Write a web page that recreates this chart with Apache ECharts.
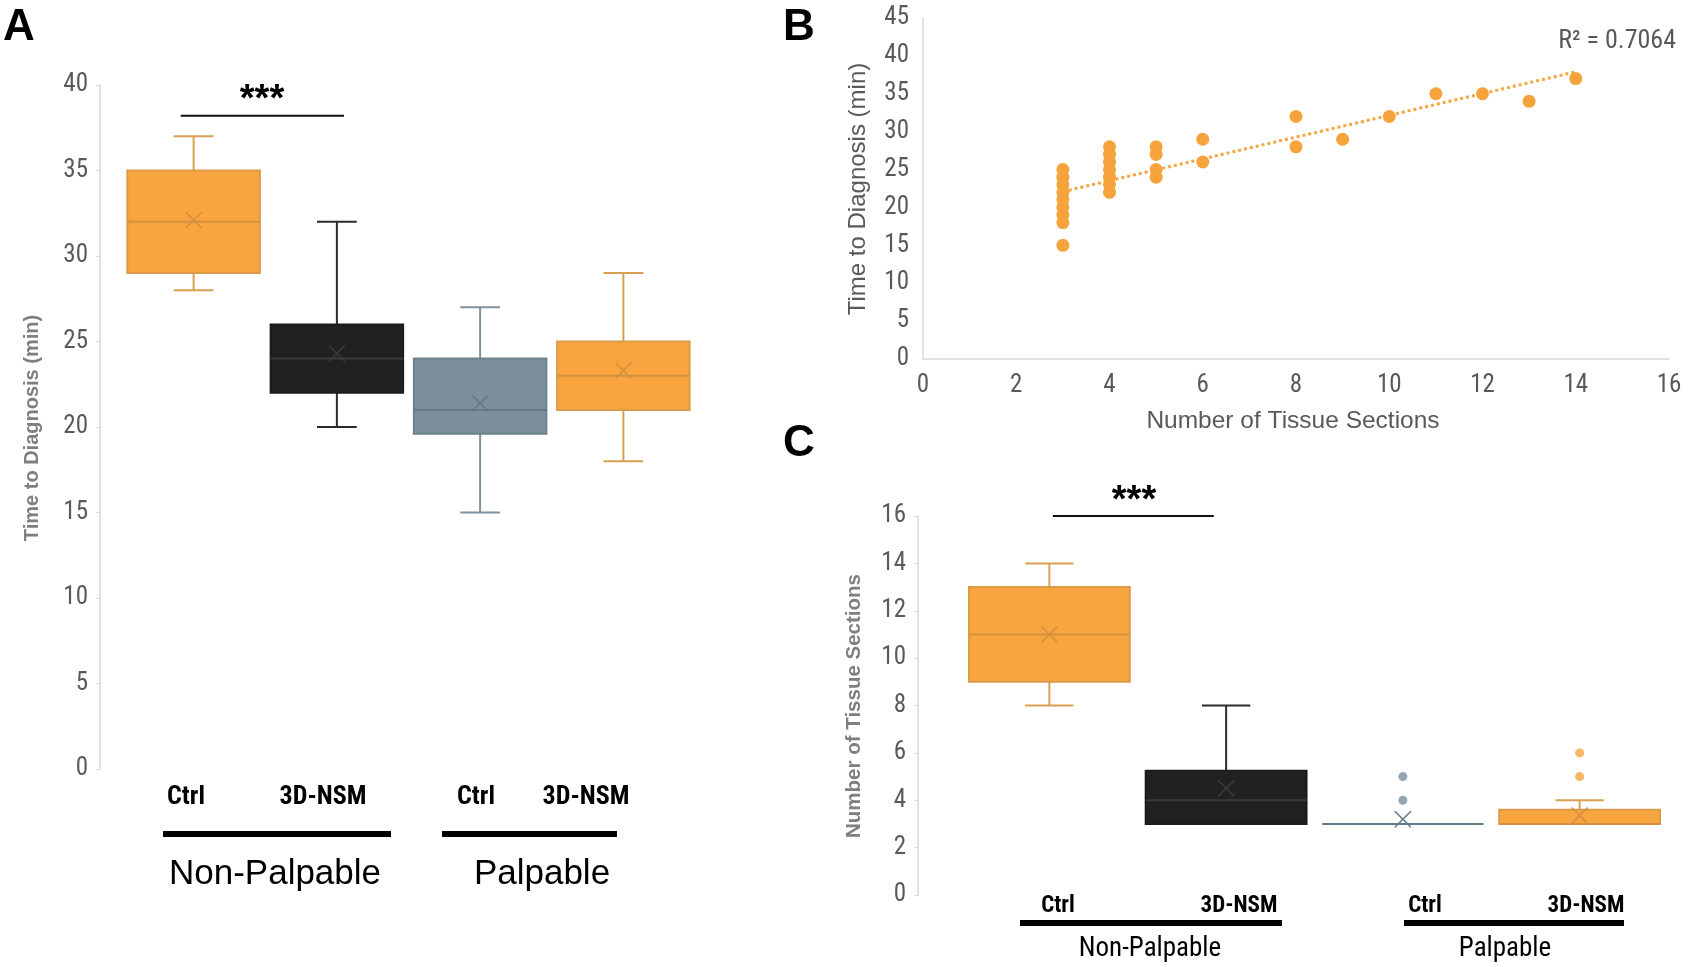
<!DOCTYPE html>
<html>
<head>
<meta charset="utf-8">
<script src="https://cdn.jsdelivr.net/npm/echarts@6/dist/echarts.min.js"></script>
<style>
html,body{margin:0;padding:0;background:#fff;}
#chart{width:1689px;height:967px;}
</style>
</head>
<body>
<div id="chart"></div>
<script>
// ---------------- DATA ----------------
// Panel A: Time to diagnosis (min)
const aCategories = ['Non-Palpable Ctrl', 'Non-Palpable 3D-NSM', 'Palpable Ctrl', 'Palpable 3D-NSM'];
const aBoxStats = [            // [min, Q1, median, Q3, max]
  [28, 29, 32, 35, 37],
  [20, 22, 24, 26, 32],
  [15, 19.6, 21, 24, 27],
  [18, 21, 23, 25, 29]
];
const aMeans = [32.1, 24.3, 21.4, 23.3];
const aSig = [-0.09, 1.05, 38.2];   // [from category, to category, value]

// Panel B: time vs number of sections
const bPoints = [
  [3,15],[3,18],[3,19],[3,20],[3,21],[3,22],[3,23],[3,24],[3,25],
  [4,22],[4,23],[4,24],[4,25],[4,26],[4,27],[4,28],
  [5,24],[5,25],[5,27],[5,28],
  [6,26],[6,29],
  [8,28],[8,32],
  [9,29],
  [10,32],
  [11,35],
  [12,35],
  [13,34],
  [14,37]
];
const bTrend = [[3, 22.1], [14, 37.9]];
const bR2 = 'R² = 0.7064';

// Panel C: number of tissue sections
const cCategories = ['Non-Palpable Ctrl', 'Non-Palpable 3D-NSM', 'Palpable Ctrl', 'Palpable 3D-NSM'];
const cBoxStats = [
  [8, 9, 11, 13, 14],
  [3, 3, 4, 5.25, 8],
  [3, 3, 3, 3, 3],
  [3, 3, 3, 3.6, 4]
];
const cMeans = [11, 4.5, 3.2, 3.35];
const cOutliers = [[2, 4], [2, 5], [3, 5], [3, 6]];
const cSig = [0.02, 0.93, 16];

const groupLabels = ['Ctrl', '3D-NSM', 'Ctrl', '3D-NSM'];
const groupNames = ['Non-Palpable', 'Palpable'];

// ---------------- STYLES ----------------
const ORANGE = {fill:'#F8A53F', border:'#DB9A47', line:'#D4913F', whisker:'#D9A052'};
const BLACK  = {fill:'#212121', border:'#1c1c1c', line:'#3a3a3a', whisker:'#2b2b2b'};
const GRAY   = {fill:'#7B8F9B', border:'#6C818D', line:'#63798A', whisker:'#7E929E'};
const boxStyles = [ORANGE, BLACK, GRAY, ORANGE];
const NARROW = "'Liberation Sans Narrow','Arial Narrow','Roboto Condensed','DejaVu Sans Condensed','Liberation Sans',sans-serif";
const SANS = "'Liberation Sans',Arial,'Helvetica',sans-serif";
const AX = '#d9d9d9';
const TXT = '#595959';

function boxRenderer(frac, capFrac) {
  return function (params, api) {
    const i = api.value(0);
    const st = boxStyles[i];
    const band = api.size([1, 0])[0];
    const bw = band * frac;
    const cap = bw * capFrac;
    const cx = api.coord([i, 0])[0];
    const yMin = api.coord([i, api.value(1)])[1];
    const yQ1 = api.coord([i, api.value(2)])[1];
    const yMed = api.coord([i, api.value(3)])[1];
    const yQ3 = api.coord([i, api.value(4)])[1];
    const yMax = api.coord([i, api.value(5)])[1];
    const yMean = api.coord([i, api.value(6)])[1];
    const xs = 8;
    const children = [];
    const wl = {stroke: st.whisker, lineWidth: 2};
    if (yMax < yQ3 - 0.5) {
      children.push({type:'line', shape:{x1:cx, y1:yQ3, x2:cx, y2:yMax}, style:wl});
      children.push({type:'line', shape:{x1:cx-cap/2, y1:yMax, x2:cx+cap/2, y2:yMax}, style:wl});
    }
    if (yMin > yQ1 + 0.5) {
      children.push({type:'line', shape:{x1:cx, y1:yQ1, x2:cx, y2:yMin}, style:wl});
      children.push({type:'line', shape:{x1:cx-cap/2, y1:yMin, x2:cx+cap/2, y2:yMin}, style:wl});
    }
    children.push({type:'rect', shape:{x:cx-bw/2, y:yQ3, width:bw, height:Math.max(yQ1-yQ3,0)},
      style:{fill:st.fill, stroke:st.border, lineWidth:2}});
    children.push({type:'line', shape:{x1:cx-bw/2, y1:yMed, x2:cx+bw/2, y2:yMed}, style:{stroke:st.line, lineWidth:2}});
    children.push({type:'line', shape:{x1:cx-xs, y1:yMean-xs, x2:cx+xs, y2:yMean+xs}, style:{stroke:st.line, lineWidth:1.6}});
    children.push({type:'line', shape:{x1:cx-xs, y1:yMean+xs, x2:cx+xs, y2:yMean-xs}, style:{stroke:st.line, lineWidth:1.6}});
    return {type:'group', children};
  };
}
// category positions may be fractional: integer category centre plus a fraction of the band
function catX(api, v, y) {
  const base = Math.round(v);
  const band = api.size([1, 0])[0];
  const p = api.coord([base, y]);
  return [p[0] + (v - base) * band, p[1]];
}
function sigRenderer(params, api) {
  const p1 = catX(api, api.value(0), api.value(2));
  const p2 = catX(api, api.value(1), api.value(2));
  return {type:'line', shape:{x1:p1[0], y1:p1[1], x2:p2[0], y2:p2[1]}, style:{stroke:'#111', lineWidth:2}};
}

const boxData = (stats, means) => stats.map((s, i) => [i, ...s, means[i]]);

const chart = echarts.init(document.getElementById('chart'), null, {renderer:'canvas'});

const LBL = {color:TXT, fontSize:25, fontFamily:NARROW};
const yAxisCommon = {
  type:'value',
  axisLine:{show:true, lineStyle:{color:AX, width:1.5}},
  axisTick:{show:true, length:4, lineStyle:{color:AX}},
  splitLine:{show:false},
  axisLabel:Object.assign({margin:12}, LBL)
};

const option = {
  backgroundColor:'#fff',
  animation:false,
  grid:[
    {left:122, top:85, width:573, height:684},   // A
    {left:923, top:18, width:746, height:341},   // B
    {left:961, top:516, width:707, height:379}   // C
  ],
  xAxis:[
    {gridIndex:0, type:'category', data:aCategories, show:false, boundaryGap:true},
    {gridIndex:1, type:'value', min:0, max:16, interval:2,
      axisLine:{show:true, lineStyle:{color:AX, width:1.5}}, axisTick:{show:false}, splitLine:{show:false},
      axisLabel:Object.assign({margin:14}, LBL)},
    {gridIndex:2, type:'category', data:cCategories, show:false, boundaryGap:true}
  ],
  yAxis:[
    Object.assign({}, yAxisCommon, {gridIndex:0, min:0, max:40, interval:5, offset:22}),
    Object.assign({}, yAxisCommon, {gridIndex:1, min:0, max:45, interval:5, axisTick:{show:false}, axisLabel:Object.assign({margin:14}, LBL)}),
    Object.assign({}, yAxisCommon, {gridIndex:2, min:0, max:16, interval:2, offset:43})
  ],
  series:[
    {type:'custom', xAxisIndex:0, yAxisIndex:0, renderItem:boxRenderer(0.925, 0.3),
      encode:{x:0, y:[1,2,3,4,5,6]}, data:boxData(aBoxStats, aMeans), z:2},
    {type:'custom', xAxisIndex:0, yAxisIndex:0, renderItem:sigRenderer, encode:{x:[0,1], y:2}, data:[aSig]},
    {type:'line', xAxisIndex:1, yAxisIndex:1, data:bTrend, symbol:'none',
      lineStyle:{color:'#F5A640', width:3, type:[3,3]}, z:1},
    {type:'scatter', xAxisIndex:1, yAxisIndex:1, data:bPoints, symbolSize:13,
      itemStyle:{color:'#F6A33C', opacity:1}, z:3},
    {type:'custom', xAxisIndex:2, yAxisIndex:2, renderItem:boxRenderer(0.91, 0.3),
      encode:{x:0, y:[1,2,3,4,5,6]}, data:boxData(cBoxStats, cMeans), z:2},
    {type:'scatter', xAxisIndex:2, yAxisIndex:2, symbolSize:9,
      data:cOutliers.map(p => ({value:p, itemStyle:{color:boxStyles[p[0]].fill}})), z:3},
    {type:'custom', xAxisIndex:2, yAxisIndex:2, renderItem:sigRenderer, encode:{x:[0,1], y:2}, data:[cSig]}
  ],
  graphic:[
    // panel letters
    {type:'text', left:3, top:6, style:{text:'A', font:'bold 44px ' + SANS, fill:'#000'}},
    {type:'text', left:783, top:6, style:{text:'B', font:'bold 44px ' + SANS, fill:'#000'}},
    {type:'text', left:783, top:422, style:{text:'C', font:'bold 44px ' + SANS, fill:'#000'}},
    // axis titles
    {type:'text', x:32, y:428, rotation:Math.PI/2, style:{text:'Time to Diagnosis (min)', font:'bold 20px ' + SANS, fill:'#7f7f7f', align:'center', verticalAlign:'middle'}},
    {type:'text', x:858, y:189, rotation:Math.PI/2, style:{text:'Time to Diagnosis (min)', font:'24px ' + SANS, fill:TXT, align:'center', verticalAlign:'middle'}},
    {type:'text', x:1293, y:421, style:{text:'Number of Tissue Sections', font:'24.5px ' + SANS, fill:TXT, align:'center', verticalAlign:'middle'}},
    {type:'text', x:854, y:706, rotation:Math.PI/2, style:{text:'Number of Tissue Sections', font:'bold 20.5px ' + SANS, fill:'#7f7f7f', align:'center', verticalAlign:'middle'}},
    {type:'text', x:1676, y:41, style:{text:bR2, font:'26px ' + NARROW, fill:TXT, align:'right', verticalAlign:'middle'}},
    // significance stars
    {type:'text', x:262, y:101, style:{text:'***', font:'bold 38px ' + SANS, fill:'#000', align:'center', verticalAlign:'middle'}},
    {type:'text', x:1134, y:502, style:{text:'***', font:'bold 38px ' + SANS, fill:'#000', align:'center', verticalAlign:'middle'}},
    // panel A group labels
    {type:'text', x:186, y:797, style:{text:groupLabels[0], font:'bold 26px ' + NARROW, fill:'#000', align:'center', verticalAlign:'middle'}},
    {type:'text', x:323, y:797, style:{text:groupLabels[1], font:'bold 26px ' + NARROW, fill:'#000', align:'center', verticalAlign:'middle'}},
    {type:'text', x:476, y:797, style:{text:groupLabels[2], font:'bold 26px ' + NARROW, fill:'#000', align:'center', verticalAlign:'middle'}},
    {type:'text', x:586, y:797, style:{text:groupLabels[3], font:'bold 26px ' + NARROW, fill:'#000', align:'center', verticalAlign:'middle'}},
    {type:'rect', shape:{x:163, y:831, width:228, height:6}, style:{fill:'#000'}},
    {type:'rect', shape:{x:442, y:831, width:175, height:6}, style:{fill:'#000'}},
    {type:'text', x:275, y:874, style:{text:groupNames[0], font:'35px ' + SANS, fill:'#000', align:'center', verticalAlign:'middle'}},
    {type:'text', x:542, y:874, style:{text:groupNames[1], font:'35px ' + SANS, fill:'#000', align:'center', verticalAlign:'middle'}},
    // panel C group labels
    {type:'text', x:1058, y:906, style:{text:groupLabels[0], font:'bold 23px ' + NARROW, fill:'#000', align:'center', verticalAlign:'middle'}},
    {type:'text', x:1239, y:906, style:{text:groupLabels[1], font:'bold 23px ' + NARROW, fill:'#000', align:'center', verticalAlign:'middle'}},
    {type:'text', x:1425, y:906, style:{text:groupLabels[2], font:'bold 23px ' + NARROW, fill:'#000', align:'center', verticalAlign:'middle'}},
    {type:'text', x:1586, y:906, style:{text:groupLabels[3], font:'bold 23px ' + NARROW, fill:'#000', align:'center', verticalAlign:'middle'}},
    {type:'rect', shape:{x:1020, y:920, width:262, height:6}, style:{fill:'#000'}},
    {type:'rect', shape:{x:1404, y:920, width:220, height:6}, style:{fill:'#000'}},
    {type:'text', x:1150, y:949, style:{text:groupNames[0], font:'27px ' + NARROW, fill:'#000', align:'center', verticalAlign:'middle'}},
    {type:'text', x:1505, y:949, style:{text:groupNames[1], font:'27px ' + NARROW, fill:'#000', align:'center', verticalAlign:'middle'}}
  ]
};
chart.setOption(option);
</script>
</body>
</html>
